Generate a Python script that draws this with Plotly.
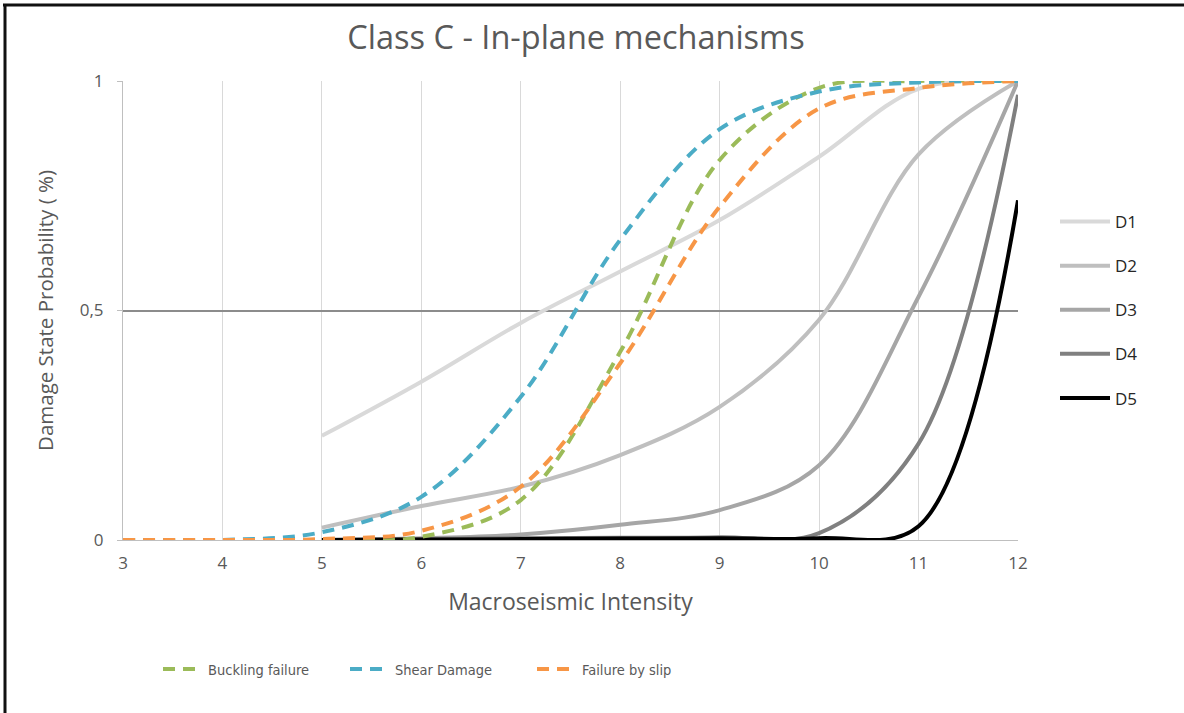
import plotly.graph_objects as go

# ---- data ----
x_mech = [3, 4, 5, 6, 7, 8, 9, 10, 11, 12]
buckling = [0, 0, 0.0, 0.007, 0.087, 0.41, 0.828, 0.985, 1.0, 1.0]
shear = [0, 0, 0.017, 0.094, 0.312, 0.654, 0.895, 0.977, 0.997, 1.0]
slip = [0, 0, 0.002, 0.02, 0.116, 0.385, 0.726, 0.94, 0.985, 1.0]

x_ds = [5, 6, 7, 8, 9, 10, 11, 12]
d1 = [0.227, 0.345, 0.473, 0.585, 0.697, 0.835, 0.983, 1.0]
d2 = [0.027, 0.074, 0.116, 0.185, 0.290, 0.480, 0.840, 1.0]
d3 = [0.0, 0.004, 0.012, 0.033, 0.065, 0.163, 0.53, 1.0]
d4 = [0.0, 0.002, 0.004, 0.005, 0.006, 0.015, 0.21, 0.97]
d5 = [0.0, 0.001, 0.002, 0.003, 0.004, 0.004, 0.03, 0.74]

x_ticks = [3, 4, 5, 6, 7, 8, 9, 10, 11, 12]
y_ticks = [0, 0.5, 1]
y_ticktext = ["0", "0,5", "1"]

title_text = "Class C - In-plane mechanisms"
x_title = "Macroseismic Intensity"
y_title = "Damage State Probability ( %)"

ds_names = ["D1", "D2", "D3", "D4", "D5"]
ds_values = [d1, d2, d3, d4, d5]
ds_colors = ["#D9D9D9", "#BFBFBF", "#A6A6A6", "#808080", "#000000"]

mech_names = ["Buckling failure", "Shear Damage", "Failure by slip"]
mech_values = [buckling, shear, slip]
mech_colors = ["#9BBB59", "#4BACC6", "#F79646"]

fig = go.Figure()

for n, v, c in zip(ds_names, ds_values, ds_colors):
    fig.add_trace(go.Scatter(
        x=x_ds, y=v, name=n, mode="lines",
        line=dict(color=c, width=4, shape="spline", smoothing=1),
        legend="legend", legendgroup=n, hoverinfo="skip",
    ))

for n, v, c in zip(mech_names, mech_values, mech_colors):
    fig.add_trace(go.Scatter(
        x=x_mech, y=v, name=n, mode="lines",
        line=dict(color=c, width=4, shape="spline", smoothing=1, dash="12px,8px"),
        legend="legend2", hoverinfo="skip",
    ))

L, R, T, B = 123, 1018, 81, 540
W, H = 1184, 713
pw, ph = R - L, B - T

def px(xp):
    return (xp - L) / pw

def py(yp):
    return (B - yp) / ph

fig.update_layout(
    width=W, height=H,
    margin=dict(l=L, r=W - R, t=T, b=H - B, pad=0),
    paper_bgcolor="white", plot_bgcolor="white",
    font=dict(family="Open Sans, sans-serif", color="#595959"),
    title=dict(text=title_text, x=576 / W, xanchor="center", y=1 - 38 / H, yanchor="middle",
               font=dict(size=32.5, color="#595959")),
    showlegend=True,
    legend=dict(
        x=px(1055), xanchor="left", y=py(310), yanchor="middle",
        orientation="v", traceorder="grouped", tracegroupgap=19,
        font=dict(size=17, color="#262626"), itemwidth=50,
        bgcolor="rgba(0,0,0,0)",
    ),
    legend2=dict(
        x=px(158), xanchor="left", y=py(669), yanchor="middle",
        orientation="h", entrywidth=132, entrywidthmode="pixels",
        font=dict(size=14.5, color="#595959",
                  family="Liberation Sans Narrow, DejaVu Sans Condensed, Open Sans, sans-serif"),
        itemwidth=40, bgcolor="rgba(0,0,0,0)",
    ),
    xaxis=dict(
        range=[3, 12], tickvals=x_ticks, ticktext=[str(t) for t in x_ticks],
        showgrid=True, gridcolor="#D9D9D9", gridwidth=1,
        showline=True, linecolor="#BFBFBF", linewidth=1,
        zeroline=False, ticks="", ticklabelstandoff=8,
        tickfont=dict(size=17, color="#595959"),
        title=dict(text=x_title, font=dict(size=23, color="#595959"), standoff=20),
    ),
    yaxis=dict(
        range=[0, 1], tickvals=y_ticks, ticktext=y_ticktext,
        showgrid=True, gridcolor="#8C8C8C", gridwidth=1.5,
        showline=True, linecolor="#BFBFBF", linewidth=1,
        zeroline=False, ticks="outside", ticklen=5, tickcolor="#BFBFBF",
        ticklabelstandoff=10,
        tickfont=dict(size=17, color="#595959"),
        title=dict(text=y_title, font=dict(size=20.5, color="#595959"), standoff=20),
    ),
)

# outer frame (top and left edges visible in the reference)
fig.add_shape(type="line", xref="paper", yref="paper",
              x0=px(3), x1=px(1190), y0=py(5), y1=py(5),
              line=dict(color="#111111", width=3))
fig.add_shape(type="line", xref="paper", yref="paper",
              x0=px(5), x1=px(5), y0=py(4), y1=py(720),
              line=dict(color="#111111", width=3))

fig.write_html("out.html")
